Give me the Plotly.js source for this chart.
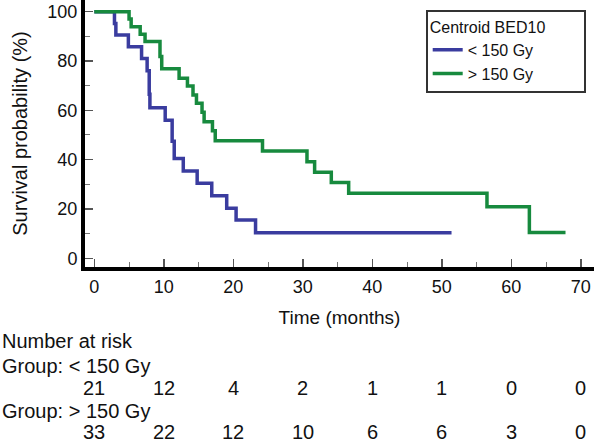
<!DOCTYPE html>
<html><head><meta charset="utf-8">
<script src="https://cdn.plot.ly/plotly-3.0.1.min.js"></script>
<style>html,body{margin:0;padding:0;background:#fff}#chart{width:594px;height:442px}</style>
</head><body><div id="chart"></div>
<script>
const groupNames = ["< 150 Gy", "> 150 Gy"];
const legendTitle = "Centroid BED10";
const lowTimes = [0, 2.9, 3.1, 4.9, 6.8, 7.6, 7.9, 8.0, 10.2, 11.2, 11.5, 12.8, 14.8, 16.9, 19.05, 20.4, 23.2, 51.4];
const lowSurv  = [100, 95.2, 90.5, 85.8, 81.0, 76.0, 66.5, 61.0, 56.0, 47.5, 40.5, 35.4, 30.4, 25.4, 20.3, 15.5, 10.4, 10.4];
const highTimes = [0, 5.0, 5.3, 6.6, 7.3, 9.45, 9.7, 12.2, 13.4, 14.2, 14.7, 15.5, 15.8, 17.0, 17.4, 24.2, 30.6, 31.7, 34.1, 36.6, 56.5, 62.6, 67.8];
const highSurv  = [100, 97.0, 93.9, 90.9, 87.9, 81.8, 76.9, 73.0, 69.9, 66.2, 62.9, 59.2, 55.4, 51.7, 47.7, 43.5, 39.2, 34.9, 30.7, 26.4, 20.9, 10.5, 10.5];
const riskTimes = [0, 10, 20, 30, 40, 50, 60, 70];
const riskLow  = [21, 12, 4, 2, 1, 1, 0, 0];
const riskHigh = [33, 22, 12, 10, 6, 6, 3, 0];
const xTitle = "Time (months)";
const yTitle = "Survival probability (%)";

const FONT = "Liberation Sans, Arial, sans-serif";
const blue = "#3a3c9f", green = "#178a3e";
const plotH = 267;
const py = p => (plotH - p) / plotH;

const traces = [
  {x: lowTimes, y: lowSurv, name: groupNames[0], mode: "lines", line: {shape: "hv", color: blue, width: 3.5}},
  {x: highTimes, y: highSurv, name: groupNames[1], mode: "lines", line: {shape: "hv", color: green, width: 3.5}}
];

const ann = [];
const txt = (text, x, y, xref, xanchor) => ann.push({text, x, y, xref, yref: "paper", xanchor, yanchor: "middle", showarrow: false, font: {family: FONT, size: 20, color: "#111"}});
const leftX = (0 - 85) / 509;
txt("Number at risk", leftX, py(340.5), "paper", "left");
txt("Group: " + groupNames[0], leftX, py(365.5), "paper", "left");
txt("Group: " + groupNames[1], leftX, py(411), "paper", "left");
riskTimes.forEach((t, i) => {
  txt(String(riskLow[i]), t, py(387.5), "x", "center");
  txt(String(riskHigh[i]), t, py(432), "x", "center");
});

const layout = {
  width: 594, height: 442,
  margin: {l: 85, r: 0, t: 0, b: 175, pad: 0},
  paper_bgcolor: "#fff", plot_bgcolor: "#fff",
  font: {family: FONT, color: "#111", size: 18},
  showlegend: true,
  legend: {
    x: (585.7 - 85) / 509, xanchor: "right", y: py(10), yanchor: "top",
    bordercolor: "#333", borderwidth: 2, bgcolor: "#fff",
    font: {family: FONT, size: 16, color: "#111"},
    title: {text: legendTitle + "\u00a0".repeat(8), font: {family: FONT, size: 16, color: "#111"}},
    tracegroupgap: 0
  },
  xaxis: {
    range: [-1.34, 71.9], tickvals: riskTimes, ticks: "inside", ticklen: 8, tickwidth: 1.5, tickcolor: "#555",
    showline: true, linewidth: 4, linecolor: "#000", showgrid: false, zeroline: false,
    tickfont: {family: FONT, size: 18, color: "#111"},
    minor: {dtick: 5, ticks: "inside", ticklen: 5, tickwidth: 1, tickcolor: "#777"},
    title: {text: xTitle, font: {family: FONT, size: 19, color: "#111"}, standoff: 16}
  },
  yaxis: {
    range: [-3.53, 104.74], tickvals: [0, 20, 40, 60, 80, 100], ticks: "inside", ticklen: 8, tickwidth: 1.5, tickcolor: "#555",
    showline: true, linewidth: 4, linecolor: "#000", showgrid: false, zeroline: false,
    tickfont: {family: FONT, size: 18, color: "#111"},
    minor: {dtick: 10, ticks: "inside", ticklen: 5, tickwidth: 1, tickcolor: "#777"},
    title: {text: yTitle, font: {family: FONT, size: 20, color: "#111"}, standoff: 15}
  },
  annotations: ann
};
Plotly.newPlot("chart", traces, layout, {staticPlot: true, displayModeBar: false});
</script></body></html>
